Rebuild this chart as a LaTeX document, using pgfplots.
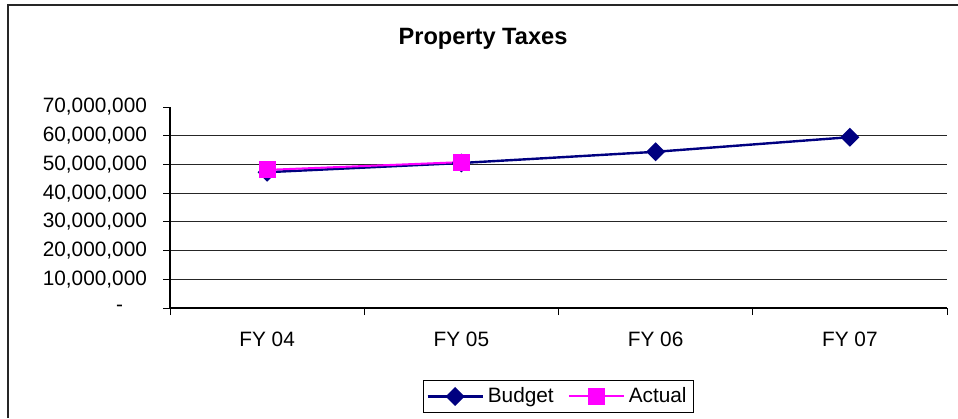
\documentclass[border=0pt]{standalone}
\usepackage{fontspec}
\setmainfont{Liberation Sans}
\usepackage{pgfplots}
\pgfplotsset{compat=1.18}
\definecolor{budget}{HTML}{000080}
\definecolor{actual}{HTML}{FF00FF}

\begin{document}
\begin{tikzpicture}
\path[use as bounding box] (0,0) rectangle (479pt,209pt);
% chart area frame (cut at right and bottom in the original)
\draw[line width=0.7pt, black!85] (4pt,0) -- (4pt,206.5pt) -- (479pt,206.5pt);
\node[font=\bfseries\fontsize{11.8}{14}\selectfont] at (241.5pt,189.5pt) {Property Taxes};
\begin{axis}[
  at={(85pt,55pt)}, anchor=south west,
  scale only axis, width=388.5pt, height=100.5pt,
  xmin=0, xmax=4, ymin=0, ymax=70000000,
  axis lines=left, axis line style={-, black, line width=0.6pt},
  xtick={0.5,1.5,2.5,3.5},
  xticklabels={FY 04, FY 05, FY 06, FY 07},
  minor xtick={0,1,2,3,4},
  ytick={0,10000000,20000000,30000000,40000000,50000000,60000000},
  yticklabels={{-\kern12pt\relax},{10,000,000},{20,000,000},{30,000,000},{40,000,000},{50,000,000},{60,000,000}},
  extra y ticks={70000000},
  extra y tick labels={70{,}000{,}000},
  extra y tick style={grid=none},
  scaled y ticks=false,
  ymajorgrids,
  major grid style={black!85, line width=0.5pt},
  tick align=outside,
  major tick length=3.5pt, minor tick length=3.5pt,
  tick style={black, line width=0.5pt},
  major x tick style={draw=none},
  tick label style={font=\fontsize{10.4}{12}\selectfont},
  yticklabel style={xshift=-4.5pt},
  xticklabel style={yshift=-5pt},
  clip=false,
  legend columns=2,
  legend style={at={(0.5,-0.44)}, anchor=center, draw=black, line width=0.5pt,
    font=\fontsize{10.4}{12}\selectfont, inner sep=1.5pt,
    /tikz/every even column/.append style={column sep=5pt}},
  legend image code/.code={\draw[mark repeat=2,mark phase=2] plot coordinates {(0pt,0pt)(13.75pt,0pt)(27.5pt,0pt)};},
]
\addplot[budget, line width=1.2pt, mark=square*, mark size=2.75pt, mark options={rotate=45, solid}]
  coordinates {(0.5,47300000)(1.5,50500000)(2.5,54400000)(3.5,59500000)};
\addplot[actual, line width=1pt, mark=square*, mark size=3.7pt, mark options={solid}]
  coordinates {(0.5,48100000)(1.5,50800000)};
\legend{Budget, Actual}
\end{axis}
\end{tikzpicture}
\end{document}
